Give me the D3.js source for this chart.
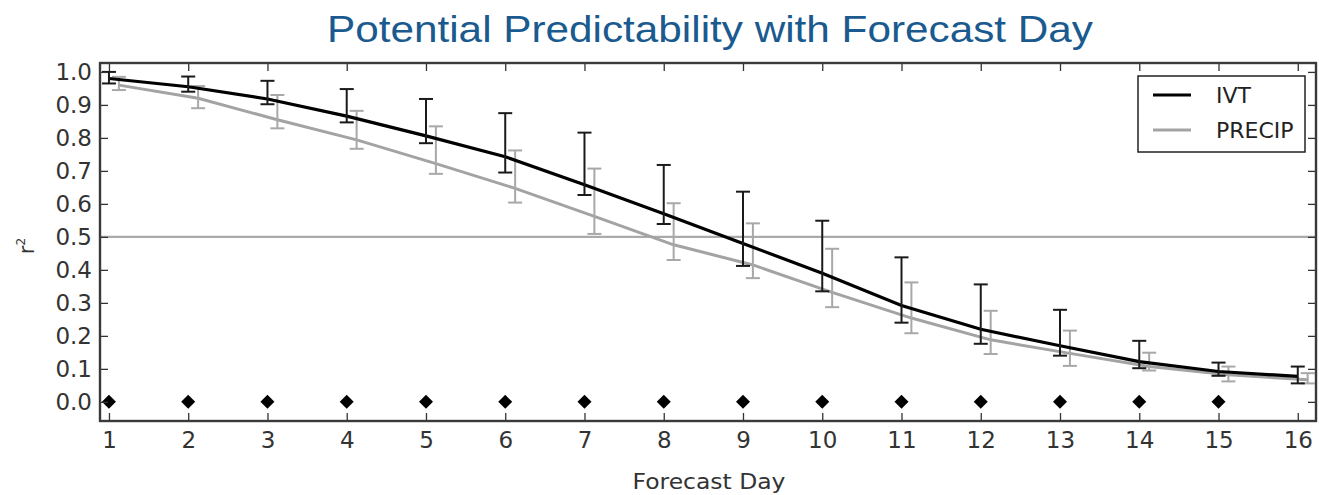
<!DOCTYPE html>
<html>
<head>
<meta charset="utf-8">
<script src="https://cdn.jsdelivr.net/npm/d3@7"></script>
<style>
  body { margin: 0; background: #fff; }
  svg { display: block; }
</style>
</head>
<body>
<div id="chart"></div>
<script>
// forecast day vs r^2
const days = [1, 2, 3, 4, 5, 6, 7, 8, 9, 10, 11, 12, 13, 14, 15, 16];
const ivt = [0.980, 0.955, 0.918, 0.866, 0.806, 0.743, 0.658, 0.570, 0.480, 0.390, 0.292, 0.220, 0.170, 0.122, 0.092, 0.077];
const ivtLo = [0.965, 0.940, 0.902, 0.847, 0.784, 0.695, 0.627, 0.539, 0.412, 0.335, 0.240, 0.176, 0.140, 0.102, 0.079, 0.056];
const ivtHi = [1.000, 0.986, 0.973, 0.948, 0.918, 0.875, 0.816, 0.718, 0.637, 0.549, 0.438, 0.356, 0.279, 0.185, 0.119, 0.107];
const precip = [0.960, 0.920, 0.855, 0.794, 0.722, 0.647, 0.562, 0.476, 0.415, 0.332, 0.254, 0.188, 0.147, 0.107, 0.082, 0.067];
const precipLo = [0.945, 0.890, 0.829, 0.767, 0.691, 0.604, 0.509, 0.430, 0.375, 0.287, 0.208, 0.145, 0.109, 0.095, 0.062, 0.056];
const precipHi = [0.985, 0.957, 0.930, 0.882, 0.835, 0.762, 0.707, 0.602, 0.541, 0.464, 0.362, 0.276, 0.216, 0.149, 0.107, 0.087];
const markerDays = [1, 2, 3, 4, 5, 6, 7, 8, 9, 10, 11, 12, 13, 14, 15];
const yTicks = [0, 0.1, 0.2, 0.3, 0.4, 0.5, 0.6, 0.7, 0.8, 0.9, 1.0];
const threshold = 0.5;
const precipShift = 0.125;   // precip bars drawn a bit right of the day

const width = 1319, height = 495;
const margin = {top: 63, right: 3, bottom: 74, left: 100};

const svg = d3.select('#chart').append('svg')
    .attr('width', width)
    .attr('height', height);

const x = d3.scaleLinear()
    .domain([0.887, 16.23])
    .range([margin.left, width - margin.right]);

const y = d3.scaleLinear()
    .domain([-0.058, 1.027])
    .range([height - margin.bottom, margin.top]);

const tickFont = '"DejaVu Sans", sans-serif';

svg.append('text')
    .attr('x', 710)
    .attr('y', 42)
    .attr('text-anchor', 'middle')
    .attr('fill', '#1a5a8f')
    .style('font', '37px "Liberation Sans", Arial, sans-serif')
    .attr('textLength', 766)
    .attr('lengthAdjust', 'spacingAndGlyphs')
    .text('Potential Predictability with Forecast Day');

svg.append('clipPath').attr('id', 'plot')
  .append('rect')
    .attr('x', margin.left)
    .attr('y', margin.top)
    .attr('width', width - margin.right - margin.left)
    .attr('height', height - margin.bottom - margin.top);

const plot = svg.append('g').attr('clip-path', 'url(#plot)');

// r^2 = 0.5 reference
plot.append('line')
    .attr('x1', margin.left).attr('x2', width - margin.right)
    .attr('y1', y(threshold)).attr('y2', y(threshold))
    .attr('stroke', '#aaaaaa')
    .attr('stroke-width', 2.2);

const line = d3.line();

function errorBars(vals, lo, hi, shift, color, sw) {
  const g = plot.append('g')
      .attr('stroke', color)
      .attr('stroke-width', sw)
      .attr('fill', 'none');
  days.forEach((d, i) => {
    const cx = x(d + shift);
    g.append('line').attr('x1', cx).attr('x2', cx).attr('y1', y(lo[i])).attr('y2', y(hi[i]));
    g.append('line').attr('x1', cx - 7).attr('x2', cx + 7).attr('y1', y(lo[i])).attr('y2', y(lo[i]));
    g.append('line').attr('x1', cx - 7).attr('x2', cx + 7).attr('y1', y(hi[i])).attr('y2', y(hi[i]));
  });
}

plot.append('path')
    .attr('d', line(days.map((d, i) => [x(d + precipShift), y(precip[i])])))
    .attr('fill', 'none')
    .attr('stroke', '#a3a3a3')
    .attr('stroke-width', 3);
errorBars(precip, precipLo, precipHi, precipShift, '#a8a8a8', 2);

plot.append('path')
    .attr('d', line(days.map((d, i) => [x(d), y(ivt[i])])))
    .attr('fill', 'none')
    .attr('stroke', '#000')
    .attr('stroke-width', 3.2);
errorBars(ivt, ivtLo, ivtHi, 0, '#1a1a1a', 2);

plot.append('g')
  .selectAll('path')
  .data(markerDays)
  .join('path')
    .attr('transform', d => `translate(${x(d)},${y(0)}) rotate(45)`)
    .attr('d', d3.symbol(d3.symbolSquare, 98)())
    .attr('fill', '#000');

// frame and inward ticks on all four sides
const x0 = margin.left, x1 = width - margin.right;
const y0 = margin.top, y1 = height - margin.bottom;

const xAxisB = svg.append('g')
    .attr('transform', `translate(0,${y1})`)
    .call(d3.axisBottom(x).tickValues(days).tickSizeInner(-8).tickSizeOuter(0).tickPadding(11));
const xAxisT = svg.append('g')
    .attr('transform', `translate(0,${y0})`)
    .call(d3.axisTop(x).tickValues(days).tickSizeInner(-8).tickSizeOuter(0).tickFormat(''));
const yAxisL = svg.append('g')
    .attr('transform', `translate(${x0},0)`)
    .call(d3.axisLeft(y).tickValues(yTicks).tickFormat(d3.format('.1f')).tickSizeInner(-8).tickSizeOuter(0).tickPadding(8));
const yAxisR = svg.append('g')
    .attr('transform', `translate(${x1},0)`)
    .call(d3.axisRight(y).tickValues(yTicks).tickSizeInner(-8).tickSizeOuter(0).tickFormat(''));

[xAxisB, xAxisT, yAxisL, yAxisR].forEach(a => {
  a.select('.domain').remove();
  a.selectAll('.tick line').attr('stroke', '#333').attr('stroke-width', 1.3);
  a.selectAll('.tick text')
      .attr('fill', '#333')
      .style('font', `23px ${tickFont}`);
});

svg.append('rect')
    .attr('x', x0).attr('y', y0)
    .attr('width', x1 - x0).attr('height', y1 - y0)
    .attr('fill', 'none')
    .attr('stroke', '#3a3a3a')
    .attr('stroke-width', 2.4);

svg.append('text')
    .attr('x', 709)
    .attr('y', 489)
    .attr('text-anchor', 'middle')
    .attr('fill', '#333')
    .style('font', `22px ${tickFont}`)
    .attr('textLength', 153)
    .attr('lengthAdjust', 'spacingAndGlyphs')
    .text('Forecast Day');

const yl = svg.append('text')
    .attr('transform', 'translate(34,246) rotate(-90)')
    .attr('text-anchor', 'middle')
    .attr('fill', '#333')
    .style('font', `21px ${tickFont}`);
yl.append('tspan').text('r');
yl.append('tspan').attr('dy', -9).style('font-size', '12px').text('2');

// legend
const legend = svg.append('g');
legend.append('rect')
    .attr('x', 1138).attr('y', 76)
    .attr('width', 167).attr('height', 76)
    .attr('fill', '#fff')
    .attr('stroke', '#222')
    .attr('stroke-width', 1.5);
const legendItems = [
  {name: 'IVT', color: '#000'},
  {name: 'PRECIP', color: '#a3a3a3'}
];
legendItems.forEach((s, i) => {
  const ly = 95 + i * 35;
  legend.append('line')
      .attr('x1', 1153).attr('x2', 1191)
      .attr('y1', ly).attr('y2', ly)
      .attr('stroke', s.color)
      .attr('stroke-width', 3);
  legend.append('text')
      .attr('x', 1216).attr('y', ly)
      .attr('dy', '0.35em')
      .attr('fill', '#222')
      .style('font', `22px ${tickFont}`)
      .text(s.name);
});
</script>
</body>
</html>
